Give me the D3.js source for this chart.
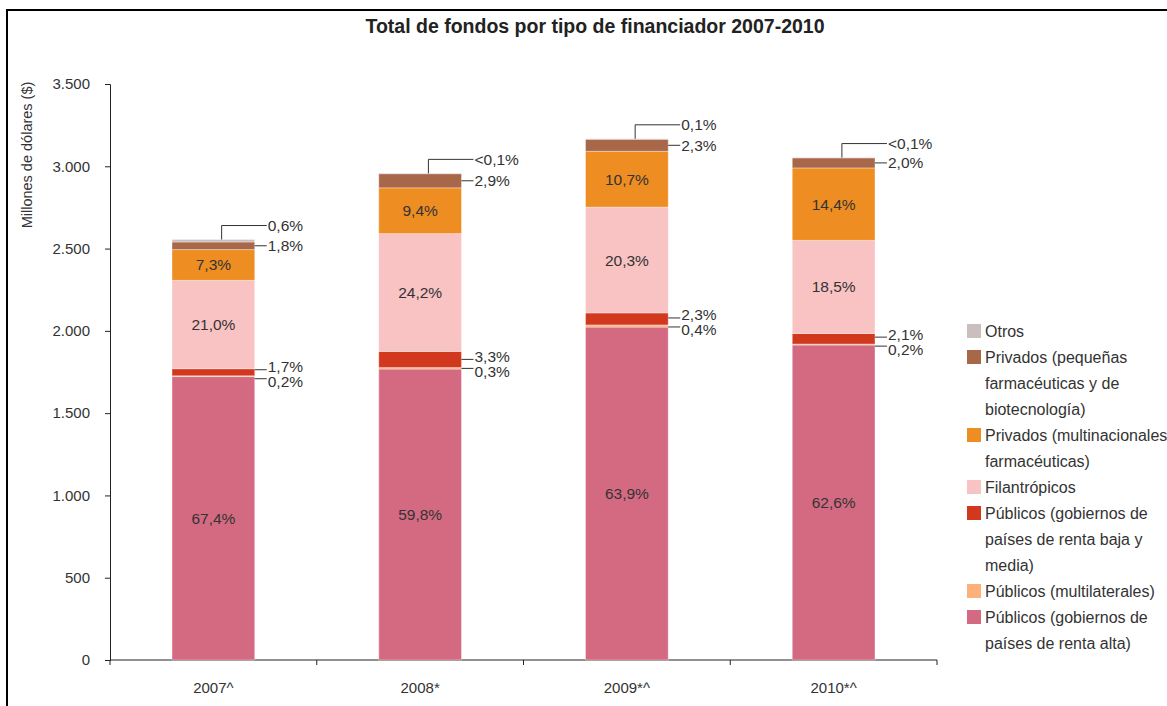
<!DOCTYPE html>
<html><head><meta charset="utf-8">
<script src="https://cdn.jsdelivr.net/npm/d3@7"></script>
<style>body{margin:0;background:#fff;} svg{display:block;font-family:"Liberation Sans",Arial,sans-serif;}</style>
</head><body><svg id="c" width="1167" height="706"></svg>
<script>
// ---- data (millions of US$) ----
const years = ["2007^", "2008*", "2009*^", "2010*^"];
const alta = [1722, 1768, 2023, 1914];
const multilaterales = [5, 9, 13, 6];
const bajaMedia = [43, 98, 73, 64];
const filantropicos = [537, 716, 643, 566];
const multinacionales = [187, 278, 339, 440];
const pequenas = [46, 86, 73, 61];
const otros = [15, 2, 3, 2];

const pctAlta = ["67,4%", "59,8%", "63,9%", "62,6%"];
const pctMultilaterales = ["0,2%", "0,3%", "0,4%", "0,2%"];
const pctBajaMedia = ["1,7%", "3,3%", "2,3%", "2,1%"];
const pctFilantropicos = ["21,0%", "24,2%", "20,3%", "18,5%"];
const pctMultinacionales = ["7,3%", "9,4%", "10,7%", "14,4%"];
const pctPequenas = ["1,8%", "2,9%", "2,3%", "2,0%"];
const pctOtros = ["0,6%", "<0,1%", "0,1%", "<0,1%"];

const yTicks = [0, 500, 1000, 1500, 2000, 2500, 3000, 3500];
const title = "Total de fondos por tipo de financiador 2007-2010";
const yTitle = "Millones de dólares ($)";

// series bottom -> top
const series = [
  {key: "alta", values: alta, pct: pctAlta, color: "#d46a82",
   legend: ["Públicos (gobiernos de", "países de renta alta)"]},
  {key: "multi", values: multilaterales, pct: pctMultilaterales, color: "#fdb07a",
   legend: ["Públicos (multilaterales)"]},
  {key: "baja", values: bajaMedia, pct: pctBajaMedia, color: "#d2381e",
   legend: ["Públicos (gobiernos de", "países de renta baja y", "media)"]},
  {key: "filan", values: filantropicos, pct: pctFilantropicos, color: "#f9c2c3",
   legend: ["Filantrópicos"]},
  {key: "multinac", values: multinacionales, pct: pctMultinacionales, color: "#ee8d22",
   legend: ["Privados (multinacionales", "farmacéuticas)"]},
  {key: "peq", values: pequenas, pct: pctPequenas, color: "#a9674a",
   legend: ["Privados (pequeñas", "farmacéuticas y de", "biotecnología)"]},
  {key: "otros", values: otros, pct: pctOtros, color: "#cbbfbd",
   legend: ["Otros"]}
];

const svg = d3.select("#c");
const txt = "#333";

// frame
svg.append("rect").attr("x", 7).attr("y", 10).attr("width", 1200).attr("height", 720)
  .attr("fill", "none").attr("stroke", "#000").attr("stroke-width", 2);

svg.append("text").attr("x", 595).attr("y", 33).attr("text-anchor", "middle")
  .attr("font-size", 19.5).attr("font-weight", "bold").attr("fill", "#222").text(title);

const x = d3.scaleBand().domain(years).range([110, 937]).paddingInner(0.6).paddingOuter(0.3);
const y = d3.scaleLinear().domain([0, 3500]).range([660, 84]);

const loc = d3.formatLocale({decimal: ",", thousands: ".", grouping: [3], currency: ["$", ""]});
const fmt = loc.format(",.0f");

// y axis
const gy = svg.append("g").attr("transform", "translate(110,0)")
  .call(d3.axisLeft(y).tickValues(yTicks).tickFormat(fmt).tickSize(5).tickPadding(15));
gy.selectAll("text").attr("font-size", 15).attr("fill", txt).attr("font-family", "Liberation Sans, Arial, sans-serif");
gy.selectAll("line,path").attr("stroke", "#222");

svg.append("text").attr("transform", "translate(32,155) rotate(-90)").attr("text-anchor", "middle")
  .attr("font-size", 14.5).attr("fill", txt).text(yTitle);

// x axis
const gx = svg.append("g").attr("transform", "translate(0,660)")
  .call(d3.axisBottom(x).tickSize(0).tickPadding(22));
gx.selectAll("text").attr("font-size", 15).attr("fill", txt).attr("font-family", "Liberation Sans, Arial, sans-serif");
gx.select("path").attr("stroke", "#222").attr("d", "M110,0H937");
const bounds = d3.range(years.length + 1).map(i => x.range()[0] + i * x.step());
gx.selectAll(".bt").data(bounds).enter().append("line").attr("class", "bt")
  .attr("x1", d => d).attr("x2", d => d).attr("y1", 0).attr("y2", 5).attr("stroke", "#222");

// stacked data
const table = years.map((yr, i) => {
  const o = {year: yr};
  series.forEach(s => o[s.key] = s.values[i]);
  return o;
});
const stack = d3.stack().keys(series.map(s => s.key))(table);

const bw = x.bandwidth();
stack.forEach((layer, si) => {
  svg.append("g").selectAll("rect").data(layer).enter().append("rect")
    .attr("x", d => x(d.data.year)).attr("width", bw)
    .attr("y", d => y(d[1])).attr("height", d => y(d[0]) - y(d[1]))
    .attr("fill", series[si].color)
    .attr("stroke", "rgba(255,255,255,0.35)").attr("stroke-width", 1);
});

const byKey = {};
series.forEach((s, si) => byKey[s.key] = {s, layer: stack[si]});

const lab = svg.append("g").attr("font-size", 15.5).attr("fill", txt);
// inside labels
["alta", "filan", "multinac"].forEach(k => {
  const {s, layer} = byKey[k];
  layer.forEach((d, i) => {
    lab.append("text").attr("x", x(d.data.year) + bw / 2).attr("y", (y(d[0]) + y(d[1])) / 2)
      .attr("text-anchor", "middle").attr("dominant-baseline", "central").text(s.pct[i]);
  });
});

function sideLabel(x0, x1, ly, ty, t) {
  lab.append("line").attr("x1", x0).attr("x2", x1).attr("y1", ly).attr("y2", ly)
    .attr("stroke", "#333").attr("stroke-width", 1);
  lab.append("text").attr("x", x1 + 1).attr("y", ty).attr("dominant-baseline", "central").text(t);
}

years.forEach((yr, i) => {
  const bx = x(yr), br = bx + bw, lx = br + 12;
  // baja & multilaterales
  const b = byKey.baja.layer[i], m = byKey.multi.layer[i];
  let cb = (y(b[0]) + y(b[1])) / 2, cm = (y(m[0]) + y(m[1])) / 2;
  if (cm - cb < 9) { const mid = (cb + cm) / 2; cb = mid - 4.5; cm = mid + 4.5; }
  sideLabel(br, lx, cb, cb - 3, byKey.baja.s.pct[i]);
  sideLabel(br, lx, cm, cm + 3, byKey.multi.s.pct[i]);
  // pequeñas
  const p = byKey.peq.layer[i];
  const cp = (y(p[0]) + y(p[1])) / 2;
  sideLabel(br, lx, cp, cp, byKey.peq.s.pct[i]);
  // otros (elbow)
  const o = byKey.otros.layer[i];
  const top = y(o[1]);
  const vx = bx + bw * 0.6, hy = top - 14;
  lab.append("path").attr("d", `M${vx},${top}V${hy}H${lx}`).attr("fill", "none")
    .attr("stroke", "#333").attr("stroke-width", 1);
  lab.append("text").attr("x", lx + 1).attr("y", hy).attr("dominant-baseline", "central").text(byKey.otros.s.pct[i]);
});

// legend (top -> bottom)
const leg = svg.append("g").attr("font-size", 16).attr("fill", txt);
let ly = 331;
series.slice().reverse().forEach(s => {
  leg.append("rect").attr("x", 967).attr("y", ly - 7).attr("width", 14).attr("height", 14).attr("fill", s.color);
  s.legend.forEach(line => {
    leg.append("text").attr("x", 985).attr("y", ly).attr("dominant-baseline", "central").text(line);
    ly += 26;
  });
});
</script></body></html>
